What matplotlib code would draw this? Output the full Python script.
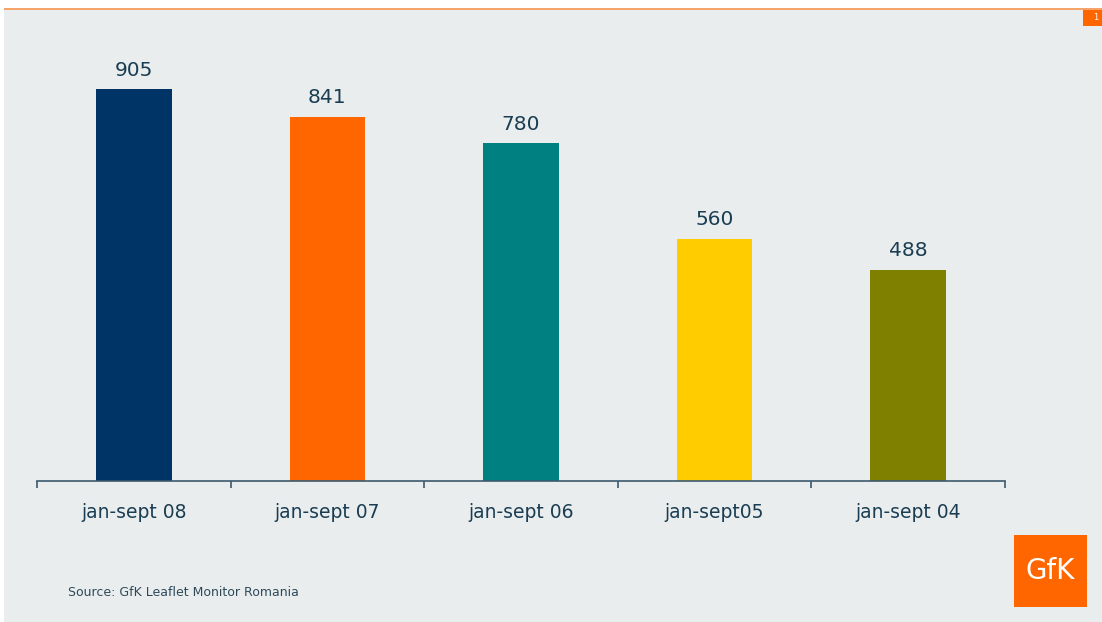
import matplotlib
matplotlib.use("Agg")
from matplotlib import pyplot as plt
from matplotlib.patches import Rectangle

periods = ["jan-sept 08", "jan-sept 07", "jan-sept 06", "jan-sept05", "jan-sept 04"]
values = [905, 841, 780, 560, 488]
colors = ["#003366", "#FF6600", "#008080", "#FFCC00", "#808000"]

W, H = 1102, 622
fig = plt.figure(figsize=(W / 100, H / 100), dpi=100)
fig.patch.set_facecolor("white")

# slide background + top orange rule
fig.patches.append(Rectangle((4 / W, 0), 1 - 4 / W, (H - 10) / H, transform=fig.transFigure,
                             facecolor="#E9EDEE", edgecolor="none", zorder=-2))
fig.patches.append(Rectangle((4 / W, (H - 10) / H), 1 - 4 / W, 1.5 / H, transform=fig.transFigure,
                             facecolor="#F4A46A", edgecolor="none", zorder=-1))
# page number box
fig.patches.append(Rectangle((1083 / W, (H - 26) / H), 19 / W, 16 / H, transform=fig.transFigure,
                             facecolor="#FF6600", edgecolor="none", zorder=-1))
fig.text(1096 / W, (H - 18) / H, "1", color="white", fontsize=6, ha="center", va="center")

ax = fig.add_axes([37 / W, (H - 481) / H, 968 / W, 433 / H])
ax.set_facecolor("none")
ax.set_zorder(3)

x = list(range(len(periods)))
bars = ax.bar(x, values, width=0.39, color=colors, zorder=2)
for b, v in zip(bars, values):
    ax.text(b.get_x() + b.get_width() / 2, v + 22, str(v), ha="center", va="bottom",
            fontsize=14.5, color="#1A3D52")

ax.set_xlim(-0.5, len(periods) - 0.5)
ax.set_ylim(0, 1000)
for s in ["top", "right", "left"]:
    ax.spines[s].set_visible(False)
ax.spines["bottom"].set_color("#3C5A6E")
ax.spines["bottom"].set_linewidth(1.2)
ax.set_yticks([])

ax.set_xticks([i - 0.5 for i in range(len(periods) + 1)])
ax.set_xticklabels([])
ax.tick_params(axis="x", direction="out", length=5, width=1.2, color="#3C5A6E")
ax.set_xticks(x, minor=True)
ax.set_xticklabels(periods, minor=True)
ax.tick_params(axis="x", which="minor", length=0, pad=16, labelsize=13.5, labelcolor="#1A3D52")

fig.text(68 / W, (H - 593) / H, "Source: GfK Leaflet Monitor Romania", fontsize=9,
         color="#2E4A5A", va="center", ha="left")

# logo
fig.patches.append(Rectangle((1014 / W, (H - 607) / H), 73 / W, 72 / H, transform=fig.transFigure,
                             facecolor="#FF6600", edgecolor="none", zorder=-1))
fig.text(1050 / W, (H - 571) / H, "GfK", color="white", fontsize=20, ha="center", va="center")

fig.savefig("out.png", dpi=100)
